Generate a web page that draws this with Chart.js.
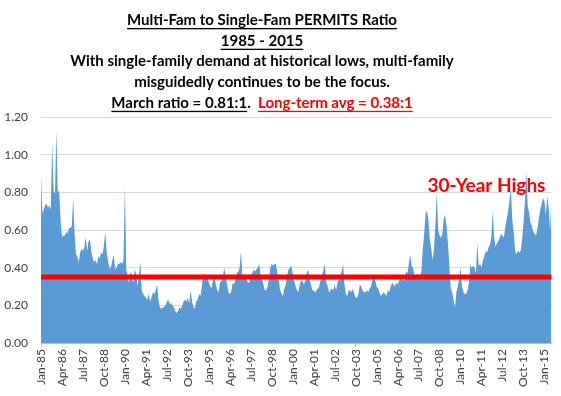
<!DOCTYPE html>
<html>
<head>
<meta charset="utf-8">
<script src="https://cdn.jsdelivr.net/npm/chart.js@4.4.1/dist/chart.umd.min.js"></script>
<style>
html, body { margin: 0; padding: 0; background: #fff; }
#wrap { width: 561px; height: 396px; }
</style>
</head>
<body>
<div id="wrap"><canvas id="myChart" width="561" height="396"></canvas></div>
<script>
const monthNames = ['Jan', 'Feb', 'Mar', 'Apr', 'May', 'Jun', 'Jul', 'Aug', 'Sep', 'Oct', 'Nov', 'Dec'];
const firstYear = 1985;
const labelEvery = 15;

// multi-fam / single-fam permits ratio, one row per year (Jan..Dec)
const ratio = [
    0.89, 0.69, 0.71, 0.73, 0.74, 0.72, 0.73, 0.71, 1.06, 0.81, 0.79, 1.13, // 1985
    0.80, 0.81, 0.65, 0.56, 0.57, 0.57, 0.59, 0.58, 0.61, 0.61, 0.62, 0.77, // 1986
    0.58, 0.47, 0.46, 0.43, 0.48, 0.50, 0.49, 0.51, 0.56, 0.49, 0.54, 0.55, // 1987
    0.48, 0.45, 0.43, 0.44, 0.42, 0.46, 0.45, 0.48, 0.47, 0.52, 0.59, 0.48, // 1988
    0.43, 0.40, 0.40, 0.44, 0.47, 0.39, 0.40, 0.42, 0.42, 0.43, 0.42, 0.44, // 1989
    0.84, 0.39, 0.35, 0.32, 0.38, 0.36, 0.32, 0.39, 0.37, 0.30, 0.36, 0.43, // 1990
    0.28, 0.26, 0.25, 0.24, 0.23, 0.26, 0.22, 0.24, 0.27, 0.26, 0.28, 0.31, // 1991
    0.23, 0.19, 0.18, 0.19, 0.19, 0.20, 0.22, 0.23, 0.21, 0.21, 0.20, 0.19, // 1992
    0.17, 0.16, 0.17, 0.19, 0.18, 0.20, 0.22, 0.23, 0.22, 0.24, 0.21, 0.28, // 1993
    0.22, 0.19, 0.18, 0.22, 0.23, 0.26, 0.25, 0.30, 0.37, 0.35, 0.34, 0.35, // 1994
    0.32, 0.30, 0.29, 0.34, 0.35, 0.31, 0.28, 0.27, 0.32, 0.33, 0.35, 0.40, // 1995
    0.36, 0.31, 0.27, 0.26, 0.27, 0.32, 0.31, 0.34, 0.37, 0.38, 0.40, 0.49, // 1996
    0.35, 0.36, 0.37, 0.34, 0.32, 0.32, 0.36, 0.37, 0.39, 0.38, 0.39, 0.40, // 1997
    0.42, 0.36, 0.34, 0.31, 0.28, 0.28, 0.30, 0.34, 0.40, 0.42, 0.41, 0.42, // 1998
    0.42, 0.37, 0.33, 0.28, 0.26, 0.25, 0.29, 0.31, 0.36, 0.39, 0.40, 0.41, // 1999
    0.37, 0.33, 0.30, 0.28, 0.27, 0.31, 0.33, 0.33, 0.31, 0.33, 0.37, 0.39, // 2000
    0.34, 0.31, 0.28, 0.28, 0.27, 0.28, 0.29, 0.30, 0.34, 0.36, 0.39, 0.42, // 2001
    0.32, 0.30, 0.27, 0.28, 0.29, 0.28, 0.31, 0.28, 0.32, 0.34, 0.36, 0.38, // 2002
    0.42, 0.31, 0.26, 0.25, 0.28, 0.28, 0.27, 0.29, 0.26, 0.24, 0.24, 0.26, // 2003
    0.31, 0.30, 0.28, 0.27, 0.27, 0.28, 0.27, 0.29, 0.30, 0.34, 0.35, 0.33, // 2004
    0.30, 0.29, 0.27, 0.25, 0.26, 0.27, 0.26, 0.25, 0.28, 0.27, 0.30, 0.32, // 2005
    0.31, 0.30, 0.32, 0.31, 0.33, 0.34, 0.34, 0.33, 0.34, 0.38, 0.37, 0.42, // 2006
    0.47, 0.41, 0.40, 0.36, 0.34, 0.37, 0.36, 0.36, 0.38, 0.50, 0.58, 0.69, // 2007
    0.70, 0.65, 0.55, 0.50, 0.44, 0.50, 0.62, 0.80, 0.60, 0.57, 0.56, 0.58, // 2008
    0.66, 0.68, 0.62, 0.53, 0.41, 0.29, 0.27, 0.23, 0.19, 0.27, 0.30, 0.35, // 2009
    0.40, 0.30, 0.27, 0.26, 0.26, 0.28, 0.32, 0.42, 0.40, 0.41, 0.40, 0.37, // 2010
    0.53, 0.41, 0.42, 0.40, 0.44, 0.46, 0.49, 0.48, 0.51, 0.52, 0.56, 0.70, // 2011
    0.56, 0.51, 0.53, 0.54, 0.56, 0.58, 0.57, 0.56, 0.62, 0.66, 0.70, 0.76, // 2012
    0.82, 0.65, 0.59, 0.49, 0.47, 0.49, 0.48, 0.49, 0.55, 0.64, 0.75, 0.91, // 2013
    0.73, 0.69, 0.64, 0.62, 0.59, 0.58, 0.57, 0.61, 0.66, 0.71, 0.74, 0.77, // 2014
    0.75, 0.68, 0.78, 0.72, 0.60, 0.80                                      // 2015
];

const longTermAvg = 0.35;
const yMax = 1.2;
const yStep = 0.2;

const categories = ratio.map((v, i) => {
    const yr = firstYear + Math.floor(i / 12);
    return monthNames[i % 12] + '-' + String(yr).slice(2);
});
const avgLine = categories.map(() => longTermAvg);

const titleFont = "bold 15px Lato, sans-serif";
const titleLines = [
    [{ text: 'Multi-Fam to Single-Fam PERMITS Ratio', color: '#000', underline: true }],
    [{ text: '1985 - 2015', color: '#000', underline: true }],
    [{ text: 'With single-family demand at historical lows, multi-family', color: '#000' }],
    [{ text: 'misguidedly continues to be the focus.', color: '#000' }],
    [
        { text: 'March ratio = 0.81:1', color: '#000', underline: true },
        { text: '.  ', color: '#000' },
        { text: 'Long-term avg = 0.38:1', color: '#ff0000', underline: true }
    ]
];
const calloutText = '30-Year Highs';

const titlePlugin = {
    id: 'titleText',
    afterDraw(chart) {
        const ctx = chart.ctx;
        ctx.save();
        ctx.font = titleFont;
        ctx.textBaseline = 'middle';
        ctx.textAlign = 'left';
        const cx = 262;
        titleLines.forEach((segs, li) => {
            const y = 20 + li * 20.7;
            const total = segs.reduce((s, g) => s + ctx.measureText(g.text).width, 0);
            let x = cx - total / 2;
            segs.forEach(g => {
                const w = ctx.measureText(g.text).width;
                ctx.fillStyle = g.color;
                ctx.fillText(g.text, x, y);
                if (g.underline) {
                    ctx.fillRect(x, y + 8, w, 1.3);
                }
                x += w;
            });
        });

        // callout
        const yScale = chart.scales.y;
        ctx.font = "bold 19px Lato, sans-serif";
        ctx.fillStyle = '#ff0000';
        ctx.textAlign = 'right';
        ctx.fillText(calloutText, chart.chartArea.right - 6, yScale.getPixelForValue(0.835));
        ctx.restore();
    }
};

const ctx = document.getElementById('myChart');
new Chart(ctx, {
    type: 'line',
    data: {
        labels: categories,
        datasets: [
            {
                label: 'Long-term avg',
                data: avgLine,
                borderColor: '#ff0000',
                borderWidth: 5,
                pointRadius: 0,
                fill: false,
                order: 0
            },
            {
                label: 'Ratio',
                data: ratio,
                borderWidth: 0,
                borderColor: '#5b9bd5',
                backgroundColor: '#5b9bd5',
                pointRadius: 0,
                tension: 0,
                fill: 'origin',
                order: 1
            }
        ]
    },
    options: {
        responsive: false,
        animation: false,
        layout: { padding: { top: 117, right: 9, left: 0, bottom: 0 } },
        plugins: {
            legend: { display: false },
            tooltip: { enabled: false }
        },
        scales: {
            x: {
                offset: false,
                border: { display: true, color: '#bfbfbf' },
                grid: {
                    drawOnChartArea: false,
                    drawTicks: true,
                    tickLength: 4,
                    color: (c) => (c.index % labelEvery === 0 ? '#bfbfbf' : 'rgba(0,0,0,0)')
                },
                ticks: {
                    autoSkip: false,
                    minRotation: 90,
                    maxRotation: 90,
                    padding: 2,
                    color: '#404040',
                    font: { family: 'Lato', size: 12 },
                    callback: function (val, idx) {
                        return idx % labelEvery === 0 ? this.getLabelForValue(val) : null;
                    }
                },
                afterFit: (s) => { s.height = 53; }
            },
            y: {
                min: 0,
                max: yMax,
                border: { display: false },
                grid: { color: '#d9d9d9', drawTicks: false },
                ticks: {
                    stepSize: yStep,
                    padding: 13,
                    color: '#404040',
                    font: { family: 'Lato', size: 12 },
                    callback: (v) => v.toFixed(2)
                },
                afterFit: (s) => { s.width = 41; }
            }
        }
    },
    plugins: [titlePlugin]
});
</script>
</body>
</html>
